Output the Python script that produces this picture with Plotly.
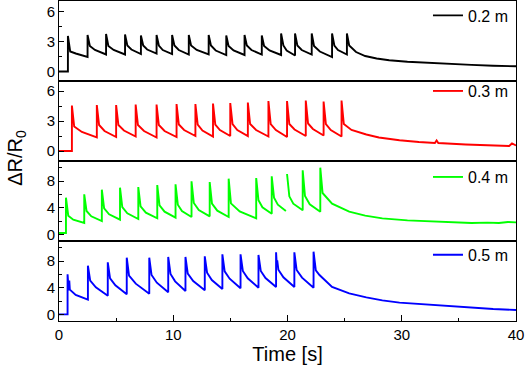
import plotly.graph_objects as go
from plotly.subplots import make_subplots

# ---------------- data ----------------
labels = ["0.2 m", "0.3 m", "0.4 m", "0.5 m"]
colors = ["#000000", "#ff0000", "#00ff00", "#0000ff"]

# panel 1 : 0.2 m
p1_base = 0.0
p1_t = [0.78, 2.50, 4.12, 5.78, 7.17, 8.54, 9.90, 11.36, 13.10, 14.64, 16.24, 17.75, 19.44, 20.66, 22.12, 23.90, 25.20]
p1_peak = [3.55, 3.65, 3.75, 3.7, 3.6, 3.65, 3.65, 3.65, 3.65, 3.6, 3.65, 3.6, 3.8, 3.8, 3.8, 3.8, 3.8]
p1_knee = [2.0, 2.55, 2.55, 2.6, 2.6, 2.6, 2.6, 2.6, 2.6, 2.55, 2.6, 2.55, 2.6, 2.6, 2.55, 2.6, 2.6]
p1_mid = [1.8, 2.15, 2.15, 2.2, 2.2, 2.15, 2.15, 2.15, 2.1, 2.1, 2.15, 2.1, 2.1, 2.15, 2.0, 2.15]
p1_trough = [1.45, 1.7, 1.7, 1.75, 1.8, 1.75, 1.7, 1.7, 1.65, 1.65, 1.7, 1.65, 1.6, 1.7, 1.45, 1.7]
p1_tail_t = [26.0, 26.8, 27.8, 28.9, 30.5, 32.6, 34.5, 36.1, 38.0, 40.0]
p1_tail_v = [1.95, 1.55, 1.3, 1.12, 0.97, 0.83, 0.73, 0.66, 0.58, 0.52]

# panel 2 : 0.3 m
p2_base = 0.0
p2_t = [1.13, 3.31, 5.00, 6.71, 8.54, 10.29, 11.94, 13.48, 14.99, 16.53, 18.33, 19.96, 21.60, 23.16, 24.73]
p2_peak = [4.55, 4.6, 4.6, 4.65, 4.65, 4.7, 4.7, 4.75, 4.8, 4.85, 5.0, 5.0, 5.05, 4.95, 5.05]
p2_knee = [2.45, 2.6, 2.6, 2.6, 2.6, 2.65, 2.65, 2.65, 2.7, 2.7, 2.7, 2.7, 2.75, 2.7, 2.7]
p2_mid = [1.9, 2.0, 2.05, 2.0, 2.0, 2.1, 2.05, 2.1, 2.1, 2.1, 2.1, 2.15, 2.2, 2.1]
p2_trough = [1.35, 1.4, 1.45, 1.35, 1.4, 1.5, 1.45, 1.5, 1.5, 1.45, 1.4, 1.5, 1.55, 1.45]
p2_tail_t = [25.6, 26.9, 28.0, 29.8, 31.5, 32.9, 33.05, 33.2, 35.6, 37.5, 39.4, 39.65, 39.9, 40.0]
p2_tail_v = [2.1, 1.65, 1.35, 1.07, 0.9, 0.8, 1.05, 0.8, 0.65, 0.57, 0.5, 0.75, 0.55, 0.55]

# panel 3 : 0.4 m
p3_base = 0.2
p3_t = [0.61, 2.21, 3.75, 5.34, 6.94, 8.60, 10.20, 11.60, 13.19, 14.85, 17.26, 18.62, 19.96, 21.33, 22.87]
p3_peak = [5.5, 6.0, 6.7, 7.0, 7.1, 7.4, 7.5, 7.95, 7.85, 8.35, 8.45, 8.7, 9.05, 9.6, 10.0]
p3_knee = [2.8, 3.5, 3.9, 4.1, 4.2, 4.35, 4.45, 4.7, 4.6, 4.65, 5.1, 5.5, 5.7, 5.75, 6.2]
p3_mid = [2.2, 2.7, 3.0, 3.15, 3.25, 3.4, 3.5, 3.65, 3.55, 3.45, 4.05, 4.45, 4.6, 4.5]
p3_trough = [1.7, 2.0, 2.2, 2.3, 2.4, 2.5, 2.6, 2.7, 2.6, 2.4, 3.1, 3.5, 3.6, 3.4]
p3_gaps = [12]          # the trace is broken just before this spike
p3_tail_t = [23.9, 25.4, 26.8, 28.3, 30.5, 32.7, 34.5, 36.1, 37.5, 38.5, 39.3, 40.0]
p3_tail_v = [4.6, 3.4, 2.8, 2.4, 2.1, 1.9, 1.8, 1.7, 1.75, 1.7, 1.85, 1.8]

# panel 4 : 0.5 m
p4_base = 0.0
p4_t = [0.75, 2.53, 4.27, 5.93, 7.90, 9.56, 11.07, 12.76, 14.30, 15.89, 17.46, 19.00, 20.60, 22.28]
p4_peak = [6.0, 7.3, 7.8, 8.5, 8.5, 8.6, 8.6, 8.7, 9.0, 9.0, 8.9, 9.3, 9.3, 9.4]
p4_knee = [3.7, 5.05, 5.4, 5.8, 5.9, 6.05, 6.1, 6.25, 6.45, 6.5, 6.5, 6.7, 6.65, 6.6]
p4_mid = [2.9, 4.05, 4.35, 4.6, 4.75, 4.95, 5.0, 5.15, 5.35, 5.4, 5.45, 5.55, 5.5]
p4_trough = [2.2, 2.8, 3.0, 3.1, 3.3, 3.5, 3.6, 3.8, 3.9, 4.0, 4.1, 4.1, 4.0]
p4_sub_cycle = [0, 0, 11, 11]
p4_sub_dt = [0.10, 0.15, 0.07, 0.10]
p4_sub_v = [3.6, 5.05, 7.2, 8.1]
p4_tail_t = [22.8, 23.9, 25.4, 26.9, 28.3, 29.8, 32.6, 35.6, 38.0, 40.0]
p4_tail_v = [5.9, 4.1, 3.15, 2.55, 2.1, 1.75, 1.4, 1.05, 0.8, 0.65]


def build(base, t, peak, knee, mid, trough, tail_t, tail_v,
          gaps=(), sub_cycle=(), sub_dt=(), sub_v=()):
    xs = [0.0, t[0]]
    ys = [base, base]
    n = len(t)
    for i in range(n):
        if i in gaps:
            xs.append(None)
            ys.append(None)
        xs.append(t[i])
        ys.append(peak[i])
        for c, d, v in zip(sub_cycle, sub_dt, sub_v):
            if c == i:
                xs.append(t[i] + d)
                ys.append(v)
        xs.append(t[i] + 0.2)
        ys.append(knee[i])
        if i < n - 1:
            xs.append(t[i] + 0.4 * (t[i + 1] - t[i]))
            ys.append(mid[i])
            end = t[i + 1] - 0.1 if (i + 1) in gaps else t[i + 1]
            xs.append(end)
            ys.append(trough[i])
    xs += list(tail_t)
    ys += list(tail_v)
    return xs, ys


series = [
    build(p1_base, p1_t, p1_peak, p1_knee, p1_mid, p1_trough, p1_tail_t, p1_tail_v),
    build(p2_base, p2_t, p2_peak, p2_knee, p2_mid, p2_trough, p2_tail_t, p2_tail_v),
    build(p3_base, p3_t, p3_peak, p3_knee, p3_mid, p3_trough, p3_tail_t, p3_tail_v, gaps=p3_gaps),
    build(p4_base, p4_t, p4_peak, p4_knee, p4_mid, p4_trough, p4_tail_t, p4_tail_v,
          sub_cycle=p4_sub_cycle, sub_dt=p4_sub_dt, sub_v=p4_sub_v),
]

y_ranges = [[-0.95, 7.05], [-1, 7], [-1, 11], [-1, 11]]
y_dticks = [3, 3, 4, 4]
y_ticks = [[0, 3, 6], [0, 3, 6], [0, 4, 8], [0, 4, 8]]

FONT = "Arial, Liberation Sans, sans-serif"

fig = make_subplots(rows=4, cols=1, shared_xaxes=True, vertical_spacing=0)

legend_names = ["legend", "legend2", "legend3", "legend4"]
for i, (xs, ys) in enumerate(series):
    fig.add_trace(go.Scatter(x=xs, y=ys, mode="lines", name=labels[i],
                             line=dict(color=colors[i], width=1.9),
                             connectgaps=False,
                             legend=legend_names[i]), row=i + 1, col=1)

for i in range(4):
    r = i + 1
    last = (r == 4)
    fig.update_xaxes(row=r, col=1, range=[0, 40], showline=True, linecolor="black",
                     linewidth=1, mirror=True, showgrid=False, zeroline=False,
                     automargin=False,
                     tickmode="array", tickvals=[0, 10, 20, 30, 40],
                     ticks="inside" if last else "", ticklen=6, tickcolor="black",
                     showticklabels=last,
                     minor=dict(tickvals=[5, 15, 25, 35], ticks="inside" if last else "",
                                ticklen=3.5, tickcolor="black"),
                     tickfont=dict(family=FONT, size=15, color="black"))
    yt = y_ticks[i]
    step = y_dticks[i] / 2
    fig.update_yaxes(row=r, col=1, range=y_ranges[i], showline=True, linecolor="black",
                     linewidth=1, mirror=True, showgrid=False, zeroline=False,
                     automargin=False,
                     tickmode="array", tickvals=yt, ticks="inside", ticklen=5,
                     tickcolor="black",
                     minor=dict(tickvals=[v + step for v in yt] + ([yt[-1] + 2 * step] if y_ranges[i][1] > yt[-1] + 2 * step else []),
                                ticks="inside", ticklen=3, tickcolor="black"),
                     tickfont=dict(family=FONT, size=15, color="black"))

fig.update_xaxes(row=4, col=1, title=dict(text="Time [s]", font=dict(family=FONT, size=20, color="black"), standoff=2))

# legends, one per panel
legend_shift = [-2.0, 2.5, -3.5, -1.3]   # px fine tuning
layout_leg = {}
for i, ln in enumerate(legend_names):
    top = 1 - 0.25 * i
    layout_leg[ln] = dict(x=0.8074, xanchor="left", y=top + 0.014 + legend_shift[i] / 320, yanchor="top",
                          bgcolor="rgba(0,0,0,0)", borderwidth=0,
                          font=dict(family=FONT, size=16, color="black"))
fig.update_layout(**layout_leg)

fig.add_annotation(text="ΔR/R<sub>0</sub>", xref="paper", yref="paper", x=-0.092, y=0.51,
                   textangle=-90, showarrow=False, xanchor="center", yanchor="middle",
                   font=dict(family=FONT, size=20, color="black"))

fig.update_layout(width=526, height=376, margin=dict(l=59, r=10, t=1, b=55, autoexpand=False),
                  plot_bgcolor="white", paper_bgcolor="white", showlegend=True)

fig.write_html("out.html", config={"displayModeBar": False},
               post_script="document.body.style.margin='0';")
